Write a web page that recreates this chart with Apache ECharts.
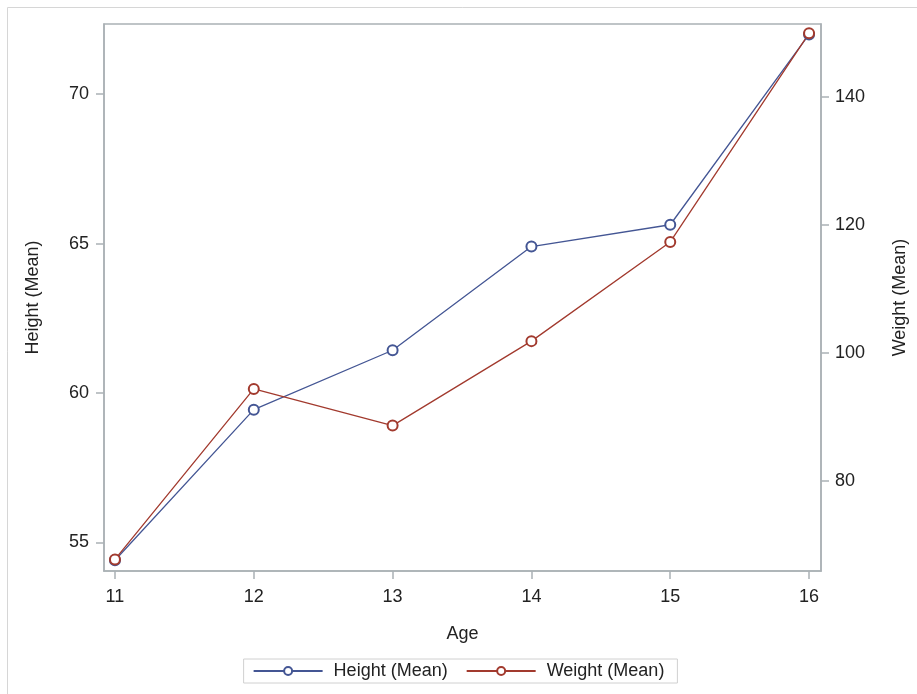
<!DOCTYPE html>
<html>
<head>
<meta charset="utf-8">
<script src="https://cdn.jsdelivr.net/npm/echarts@6/dist/echarts.min.js"></script>
<style>
html,body{margin:0;padding:0;background:#fff;}
#chart{width:917px;height:694px;}
</style>
</head>
<body>
<div id="chart"></div>
<script>
const ages = [11, 12, 13, 14, 15, 16];
const heightMean = [54.4, 59.44, 61.43, 64.9, 65.63, 72.0];
const weightMean = [67.75, 94.4, 88.67, 101.875, 117.375, 150.0];
const xTicks = [11, 12, 13, 14, 15, 16];
const leftTicks = [55, 60, 65, 70];
const rightTicks = [80, 100, 120, 140];

const FONT = '"Liberation Sans", Arial, sans-serif';
const AXIS_COLOR = '#aab1b5';
const TEXT_COLOR = '#222';

const chart = echarts.init(document.getElementById('chart'), null, {renderer: 'canvas'});

function axisCommon(ticks, margin) {
  return {
    axisLine: {show: true, onZero: false, lineStyle: {color: AXIS_COLOR, width: 1.5}},
    axisTick: {show: true, length: 8, customValues: ticks, lineStyle: {color: AXIS_COLOR, width: 1.5}},
    axisLabel: {customValues: ticks, margin: margin, color: TEXT_COLOR, fontSize: 18, fontFamily: FONT},
    splitLine: {show: false},
    nameTextStyle: {color: TEXT_COLOR, fontSize: 18, fontFamily: FONT}
  };
}

const option = {
  animation: false,
  backgroundColor: '#fff',
  graphic: [{
    type: 'rect',
    shape: {x: 7.5, y: 7.5, width: 940, height: 720},
    style: {fill: 'none', stroke: '#d6d6d6', lineWidth: 1},
    silent: true
  }],
  grid: {
    left: 104, top: 24, right: 96, bottom: 123,
    show: true, borderColor: AXIS_COLOR, borderWidth: 1.5, backgroundColor: '#fff'
  },
  legend: {
    bottom: 11, left: 'center',
    itemWidth: 69, itemHeight: 10, itemGap: 18,
    padding: [3, 13, 3, 9],
    borderColor: '#d0d0d0', borderWidth: 1,
    textStyle: {color: TEXT_COLOR, fontSize: 18, fontFamily: FONT, padding: [0, 0, 0, 6]},
    data: ['Height (Mean)', 'Weight (Mean)']
  },
  xAxis: Object.assign(axisCommon(xTicks, 17), {
    type: 'value', min: 10.921, max: 16.086,
    name: 'Age', nameLocation: 'middle', nameGap: 54,
  }),
  yAxis: [
    Object.assign(axisCommon(leftTicks, 15), {
      type: 'value', min: 54.04, max: 72.35, position: 'left',
      name: 'Height (Mean)', nameLocation: 'middle', nameGap: 62,
    }),
    Object.assign(axisCommon(rightTicks, 14), {
      type: 'value', min: 65.94, max: 151.45, position: 'right',
      name: 'Weight (Mean)', nameLocation: 'middle', nameGap: 70,
    })
  ],
  series: [
    {
      name: 'Height (Mean)', type: 'line', yAxisIndex: 0,
      data: ages.map((a, i) => [a, heightMean[i]]),
      symbol: 'emptyCircle', symbolSize: 10,
      color: '#445694',
      lineStyle: {color: '#445694', width: 1.3},
      itemStyle: {color: '#445694', borderColor: '#445694', borderWidth: 1.5}
    },
    {
      name: 'Weight (Mean)', type: 'line', yAxisIndex: 1,
      data: ages.map((a, i) => [a, weightMean[i]]),
      symbol: 'emptyCircle', symbolSize: 10,
      color: '#A23A2E',
      lineStyle: {color: '#A23A2E', width: 1.3},
      itemStyle: {color: '#A23A2E', borderColor: '#A23A2E', borderWidth: 1.5}
    }
  ]
};
chart.setOption(option);
</script>
</body>
</html>
